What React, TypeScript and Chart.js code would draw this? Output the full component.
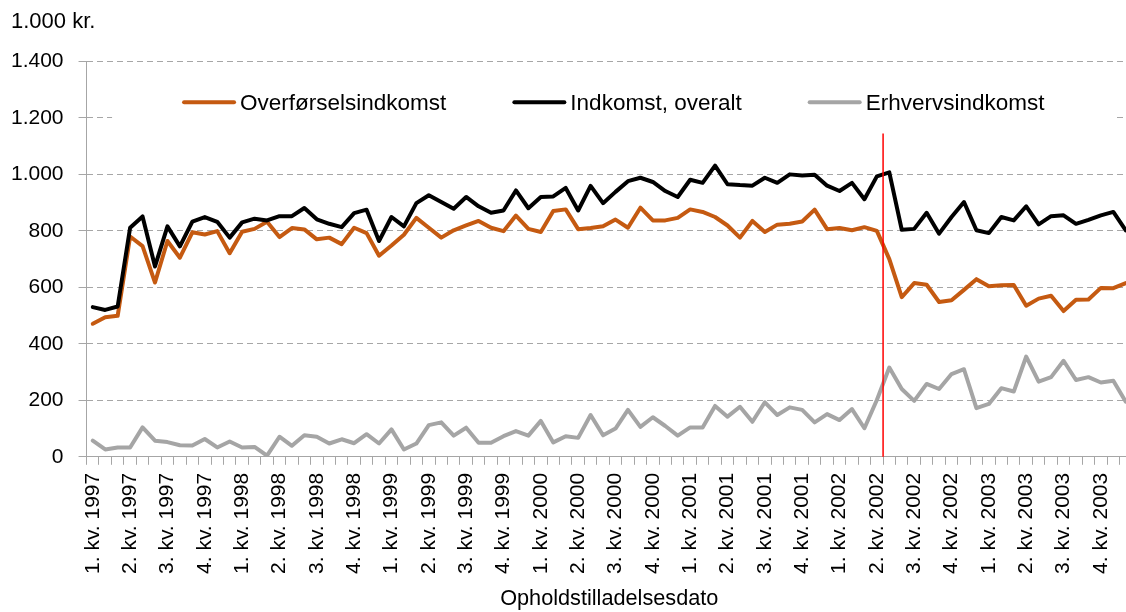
import React, { useEffect, useRef } from "react";
import { Chart, registerables } from "chart.js";

Chart.register(...registerables);

// ---- data ----
const quarterLabels = [
  "1. kv. 1997", "2. kv. 1997", "3. kv. 1997", "4. kv. 1997",
  "1. kv. 1998", "2. kv. 1998", "3. kv. 1998", "4. kv. 1998",
  "1. kv. 1999", "2. kv. 1999", "3. kv. 1999", "4. kv. 1999",
  "1. kv. 2000", "2. kv. 2000", "3. kv. 2000", "4. kv. 2000",
  "1. kv. 2001", "2. kv. 2001", "3. kv. 2001", "4. kv. 2001",
  "1. kv. 2002", "2. kv. 2002", "3. kv. 2002", "4. kv. 2002",
  "1. kv. 2003", "2. kv. 2003", "3. kv. 2003", "4. kv. 2003",
];
const monthsPerQuarter = 3;
const categories: string[] = quarterLabels.flatMap((q) => [q, q, q]);

const overfoerselsindkomst = [
  471, 494, 499, 780, 746, 617, 764, 705, 795, 787, 799, 721, 797, 807, 832, 778, 810, 805, 770, 776, 753, 811,
  792, 712, 748, 786, 846, 811, 776, 802, 819, 835, 811, 799, 854, 807, 796, 870, 876, 806, 810, 816, 840,
  811, 882, 837, 837, 846, 876, 867, 849, 819, 776, 835, 796, 822, 825, 833, 875, 806, 810, 802, 813, 800,
  700, 565, 615, 609, 548, 554, 591, 629, 604, 607, 608, 535, 560, 570, 516, 556, 557, 598, 597, 615,
];
const indkomstOveralt = [
  530, 520, 532, 811, 851, 674, 816, 745, 833, 849, 832, 776, 830, 843, 837, 852, 852, 881, 841, 825, 813, 863,
  875, 764, 849, 816, 898, 926, 902, 878, 920, 887, 864, 872, 943, 880, 920, 922, 952, 872, 959, 898, 938,
  976, 988, 973, 941, 920, 981, 970, 1031, 965, 962, 960, 988, 970, 1000, 996, 999, 960, 941, 970, 912, 993,
  1007, 804, 807, 864, 790, 849, 902, 802, 792, 849, 837, 887, 823, 852, 855, 825, 839, 855, 867, 802,
];
const erhvervsindkomst = [
  57, 26, 33, 33, 104, 57, 52, 41, 40, 63, 33, 54, 33, 35, 4, 71, 39, 76, 71, 47, 62, 48,
  80, 47, 97, 26, 47, 112, 122, 75, 103, 50, 50, 73, 91, 75, 127, 51, 73, 67, 148, 76, 100,
  166, 106, 140, 109, 75, 104, 104, 180, 142, 177, 124, 193, 148, 175, 166, 122, 151, 130, 169, 101, 201,
  316, 240, 198, 258, 240, 293, 310, 172, 187, 243, 231, 355, 266, 282, 340, 272, 282, 263, 269, 195,
];

const seriesNames = ["Overførselsindkomst", "Indkomst, overalt", "Erhvervsindkomst"];
const seriesColors = ["#C55A11", "#000000", "#A5A5A5"];

const yMin = 0;
const yMax = 1400;
const yStep = 200;
const yUnitLabel = "1.000 kr.";
const xAxisTitle = "Opholdstilladelsesdato";

// red marker: boundary after category index 63 (March 2002), from 0 up to this value
const markerAfterIndex = 63;
const markerTopValue = 1145;
const legendRowValue = 1255;

const FONT = '"Liberation Sans", Arial, sans-serif';
const GRID = "#A6A6A6";
const Y_TICK_PADDING = 15;

function formatThousands(v: number): string {
  if (v >= 1000) {
    return Math.floor(v / 1000) + "." + String(v % 1000).padStart(3, "0");
  }
  return String(v);
}

const insideLegend = {
  id: "insideLegend",
  afterDraw(chart: any) {
    const { ctx, chartArea, scales } = chart;
    const yScale = scales.y;
    ctx.save();
    ctx.font = `22.5px ${FONT}`;
    const sampleW = 54;
    const sampleGap = 4;
    const itemGap = 66;
    const items = chart.data.datasets.map((ds: any) => ({
      label: ds.label,
      color: ds.borderColor,
      w: sampleW + sampleGap + ctx.measureText(ds.label).width,
    }));
    const total =
      items.reduce((s: number, it: any) => s + it.w, 0) + itemGap * (items.length - 1);
    const cx = (chartArea.left + chartArea.right) / 2 + 4;
    let x = cx - total / 2;
    const rowY = yScale.getPixelForValue(legendRowValue);
    ctx.fillStyle = "#ffffff";
    ctx.fillRect(x - 70, rowY - 18, total + 140, 36);
    ctx.textBaseline = "middle";
    ctx.textAlign = "left";
    for (const it of items) {
      ctx.strokeStyle = it.color;
      ctx.lineWidth = 4;
      ctx.lineCap = "round";
      ctx.beginPath();
      ctx.moveTo(x + 2, rowY);
      ctx.lineTo(x + sampleW - 2, rowY);
      ctx.stroke();
      ctx.fillStyle = "#000";
      ctx.fillText(it.label, x + sampleW + sampleGap, rowY + 1);
      x += it.w + itemGap;
    }
    ctx.restore();
  },
};

const markerLine = {
  id: "markerLine",
  afterDatasetsDraw(chart: any) {
    const { ctx, scales } = chart;
    const xs = scales.x;
    const ys = scales.y;
    const x = (xs.getPixelForValue(markerAfterIndex) + xs.getPixelForValue(markerAfterIndex + 1)) / 2;
    ctx.save();
    ctx.strokeStyle = "#FF0000";
    ctx.lineWidth = 1.5;
    ctx.beginPath();
    ctx.moveTo(x, ys.getPixelForValue(markerTopValue));
    ctx.lineTo(x, ys.getPixelForValue(yMin));
    ctx.stroke();
    ctx.restore();
  },
};

export default function App() {
  const canvasRef = useRef<HTMLCanvasElement | null>(null);

  useEffect(() => {
    if (!canvasRef.current) return;
    Chart.defaults.font.family = FONT;
    Chart.defaults.font.size = 21;
    Chart.defaults.color = "#000";
    const seriesData = [overfoerselsindkomst, indkomstOveralt, erhvervsindkomst];
    const chart = new Chart(canvasRef.current, {
      type: "line",
      data: {
        labels: categories,
        datasets: seriesData.map((d, i) => ({
          label: seriesNames[i],
          data: d,
          borderColor: seriesColors[i],
          backgroundColor: seriesColors[i],
          borderWidth: 4,
          pointRadius: 0,
          tension: 0,
          borderJoinStyle: "round" as const,
          borderCapStyle: "round" as const,
          order: 2 - i,
        })),
      },
      options: {
        animation: false,
        responsive: false,
        devicePixelRatio: 1,
        layout: { padding: { left: 11, right: 0, top: 0, bottom: 0 } },
        plugins: {
          legend: { display: false },
          tooltip: { enabled: false },
          title: {
            display: true,
            text: yUnitLabel,
            align: "start",
            color: "#000",
            font: { size: 22, weight: "normal", family: FONT },
            padding: { top: 9, bottom: 26 },
          },
        },
        scales: {
          x: {
            type: "category",
            offset: true,
            grid: {
              display: true,
              offset: true,
              drawOnChartArea: false,
              drawTicks: true,
              tickLength: 8,
              color: GRID,
            },
            border: { display: true, color: GRID, width: 1 },
            ticks: {
              autoSkip: false,
              minRotation: 90,
              maxRotation: 90,
              padding: 8,
              color: "#000",
              font: { size: 21, family: FONT },
              callback: (_v: any, index: number) =>
                index % monthsPerQuarter === 0 ? categories[index] : "",
            },
            title: {
              display: true,
              text: xAxisTitle,
              color: "#000",
              font: { size: 21.7, family: FONT },
              padding: { top: 4, bottom: 0 },
            },
            afterFit: (scale: any) => {
              scale.paddingRight = 0;
              scale.paddingLeft = 0;
            },
          },
          y: {
            min: yMin,
            max: yMax,
            ticks: {
              stepSize: yStep,
              padding: Y_TICK_PADDING,
              color: "#000",
              font: { size: 21, family: FONT },
              callback: (v: any) => formatThousands(Number(v)),
            },
            grid: {
              color: GRID,
              lineWidth: 1,
              drawTicks: true,
              tickLength: 8,
              tickBorderDash: [],
              tickColor: GRID,
            },
            border: { display: true, color: GRID, width: 1, dash: [6, 4] },
            afterFit: (scale: any) => {
              scale.width = scale.width - Y_TICK_PADDING;
            },
          },
        },
      },
      plugins: [insideLegend, markerLine],
    });
    return () => chart.destroy();
  }, []);

  return (
    <div
      style={{
        position: "absolute",
        left: 0,
        top: 0,
        width: 1126,
        height: 612,
        overflow: "hidden",
        background: "#fff",
      }}
    >
      <canvas ref={canvasRef} width={1132} height={612} style={{ display: "block" }} />
    </div>
  );
}
